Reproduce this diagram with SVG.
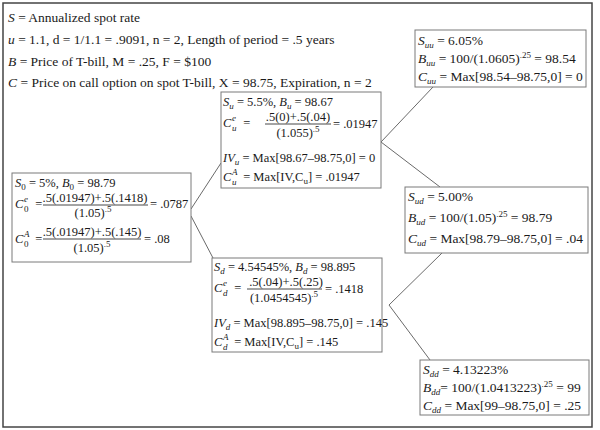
<svg xmlns="http://www.w3.org/2000/svg" width="600" height="430" viewBox="0 0 600 430">
<style>
text{font-family:"Liberation Serif","Times New Roman",serif;font-size:12.5px;fill:#1a1a1a}
.L{font-size:13.5px}
.R{font-size:13.5px}
.i{font-style:italic}
.s{font-size:9px;font-style:italic}
.p{font-size:9px}
.box{fill:#fff;stroke:#7a7a7a;stroke-width:1}
.ln{stroke:#6a6a6a;stroke-width:1;fill:none}
.bar{stroke:#1a1a1a;stroke-width:0.8}
.m{text-anchor:middle}
</style>
<rect x="3" y="3" width="589" height="424" fill="#fff" stroke="#444" stroke-width="1.5"/>
<g id="legend">
<text class="L" x="8" y="22"><tspan class="i">S</tspan> = Annualized spot rate</text>
<text class="L" x="8" y="44"><tspan class="i">u</tspan> = 1.1, d = 1/1.1 = .9091, n = 2, Length of period = .5 years</text>
<text class="L" x="8" y="66"><tspan class="i">B</tspan> = Price of  T-bill, M = .25, F = $100</text>
<text class="L" x="8" y="87"><tspan class="i">C</tspan> = Price on call option on spot  T-bill, X = 98.75, Expiration, n = 2</text>
</g>
<g id="connectors">
<line class="ln" x1="191" y1="209" x2="221" y2="163"/>
<line class="ln" x1="191" y1="216" x2="213" y2="258"/>
<line class="ln" x1="381" y1="142" x2="433" y2="87"/>
<line class="ln" x1="381" y1="142" x2="440" y2="187"/>
<line class="ln" x1="389" y1="305" x2="442" y2="253"/>
<line class="ln" x1="389" y1="305" x2="430" y2="360"/>
</g>
<g id="node-S0">
<rect class="box" x="12" y="173" width="179" height="89"/>
<text x="15" y="187"><tspan class="i">S</tspan><tspan class="p" dy="3">0</tspan><tspan dy="-3"> = 5%, </tspan><tspan class="i">B</tspan><tspan class="p" dy="3">0</tspan><tspan dy="-3"> = 98.79</tspan></text>
<text y="208"><tspan x="15" class="i">C</tspan><tspan x="24" dy="-6" class="s">e</tspan><tspan x="24" dy="10" class="p">0</tspan><tspan x="32" dy="-4"> =</tspan></text>
<text class="m" x="95" y="202">.5(.01947)+.5(.1418)</text>
<line class="bar" x1="43" y1="205" x2="148" y2="205"/>
<text class="m" x="93" y="217">(1.05)<tspan class="p" dy="-5">.5</tspan></text>
<text x="150" y="208">= .0787</text>
<text y="243"><tspan x="15" class="i">C</tspan><tspan x="24" dy="-6" class="s">A</tspan><tspan x="24" dy="10" class="p">0</tspan><tspan x="32" dy="-4"> =</tspan></text>
<text class="m" x="92" y="236">.5(.01947)+.5(.145)</text>
<line class="bar" x1="43" y1="239" x2="141" y2="239"/>
<text class="m" x="92" y="252">(1.05)<tspan class="p" dy="-5">.5</tspan></text>
<text x="144" y="243">= .08</text>
</g>
<g id="node-Su">
<rect class="box" x="221" y="92" width="160" height="96"/>
<text x="223" y="106"><tspan class="i">S</tspan><tspan class="s" dy="3">u</tspan><tspan dy="-3"> = 5.5%, </tspan><tspan class="i">B</tspan><tspan class="s" dy="3">u</tspan><tspan dy="-3"> = 98.67</tspan></text>
<text y="127"><tspan x="223" class="i">C</tspan><tspan x="232" dy="-6" class="s">e</tspan><tspan x="232" dy="10" class="s">u</tspan><tspan x="240" dy="-4"> =</tspan></text>
<text class="m" x="298" y="121">.5(0)+.5(.04)</text>
<line class="bar" x1="265" y1="124" x2="331" y2="124"/>
<text class="m" x="298" y="137">(1.055)<tspan class="p" dy="-5">.5</tspan></text>
<text x="333" y="128">= .01947</text>
<text x="223" y="162"><tspan class="i">IV</tspan><tspan class="s" dy="3">u</tspan><tspan dy="-3"> = Max[98.67–98.75,0] = 0</tspan></text>
<text y="181"><tspan x="223" class="i">C</tspan><tspan x="232" dy="-6" class="s">A</tspan><tspan x="232" dy="10" class="s">u</tspan><tspan x="240" dy="-4"> = Max[IV,C</tspan><tspan class="p" dy="3">u</tspan><tspan dy="-3">] = .01947</tspan></text>
</g>
<g id="node-Sd">
<rect class="box" x="212" y="258" width="170" height="94"/>
<text x="214" y="271"><tspan class="i">S</tspan><tspan class="s" dy="3">d</tspan><tspan dy="-3"> = 4.54545%, </tspan><tspan class="i">B</tspan><tspan class="s" dy="3">d</tspan><tspan dy="-3"> = 98.895</tspan></text>
<text y="292"><tspan x="214" class="i">C</tspan><tspan x="223" dy="-6" class="s">e</tspan><tspan x="223" dy="10" class="s">d</tspan><tspan x="231" dy="-4"> =</tspan></text>
<text class="m" x="286" y="286">.5(.04)+.5(.25)</text>
<line class="bar" x1="247" y1="289" x2="322" y2="289"/>
<text class="m" x="284" y="302">(1.0454545)<tspan class="p" dy="-5">.5</tspan></text>
<text x="325" y="293">= .1418</text>
<text x="214" y="327"><tspan class="i">IV</tspan><tspan class="s" dy="3">d</tspan><tspan dy="-3"> = Max[98.895–98.75,0] = .145</tspan></text>
<text y="346"><tspan x="214" class="i">C</tspan><tspan x="223" dy="-6" class="s">A</tspan><tspan x="223" dy="10" class="s">d</tspan><tspan x="231" dy="-4"> = Max[IV,C</tspan><tspan class="p" dy="3">u</tspan><tspan dy="-3">] = .145</tspan></text>
</g>
<g id="node-Suu">
<rect class="box" x="415" y="30" width="171" height="57"/>
<text class="R" x="418" y="45"><tspan class="i">S</tspan><tspan class="s" dy="3">uu</tspan><tspan dy="-3"> = 6.05%</tspan></text>
<text class="R" x="418" y="63"><tspan class="i">B</tspan><tspan class="s" dy="3">uu</tspan><tspan dy="-3"> = 100/(1.0605)</tspan><tspan class="p" dy="-5">.25</tspan><tspan dy="5"> = 98.54</tspan></text>
<text class="R" x="418" y="81"><tspan class="i">C</tspan><tspan class="s" dy="3">uu</tspan><tspan dy="-3"> = Max[98.54–98.75,0] = 0</tspan></text>
</g>
<g id="node-Sud">
<rect class="box" x="405" y="187" width="183" height="66"/>
<text class="R" x="408" y="201"><tspan class="i">S</tspan><tspan class="s" dy="3">ud</tspan><tspan dy="-3"> = 5.00%</tspan></text>
<text class="R" x="408" y="222"><tspan class="i">B</tspan><tspan class="s" dy="3">ud</tspan><tspan dy="-3"> = 100/(1.05)</tspan><tspan class="p" dy="-5">.25</tspan><tspan dy="5"> = 98.79</tspan></text>
<text class="R" x="408" y="243"><tspan class="i">C</tspan><tspan class="s" dy="3">ud</tspan><tspan dy="-3"> = Max[98.79–98.75,0] = .04</tspan></text>
</g>
<g id="node-Sdd">
<rect class="box" x="420" y="360" width="169" height="55"/>
<text class="R" x="423" y="374"><tspan class="i">S</tspan><tspan class="s" dy="3">dd</tspan><tspan dy="-3"> = 4.13223%</tspan></text>
<text class="R" x="423" y="392"><tspan class="i">B</tspan><tspan class="s" dy="3">dd</tspan><tspan dy="-3">= 100/(1.0413223)</tspan><tspan class="p" dy="-5">.25</tspan><tspan dy="5"> = 99</tspan></text>
<text class="R" x="423" y="410"><tspan class="i">C</tspan><tspan class="s" dy="3">dd</tspan><tspan dy="-3"> = Max[99–98.75,0] = .25</tspan></text>
</g>
</svg>
